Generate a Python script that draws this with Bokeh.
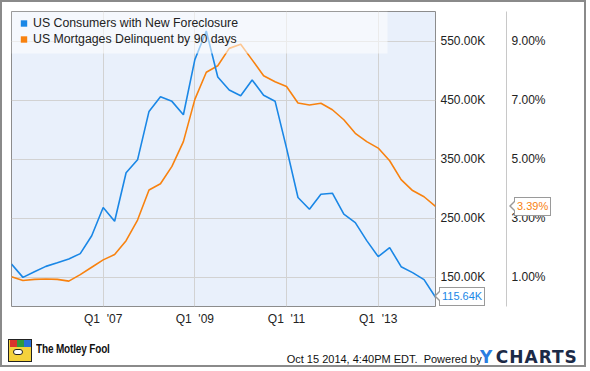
from bokeh.plotting import figure
from bokeh.layouts import column
from bokeh.models import (Range1d, LinearAxis, FixedTicker, PrintfTickFormatter,
                          Legend, LegendItem, BoxAnnotation, ColumnDataSource, Div)
from bokeh.embed import file_html
from bokeh.resources import INLINE

# ---- data -------------------------------------------------------------
quarters = ["2005Q1", "2005Q2", "2005Q3", "2005Q4",
            "2006Q1", "2006Q2", "2006Q3", "2006Q4",
            "2007Q1", "2007Q2", "2007Q3", "2007Q4",
            "2008Q1", "2008Q2", "2008Q3", "2008Q4",
            "2009Q1", "2009Q2", "2009Q3", "2009Q4",
            "2010Q1", "2010Q2", "2010Q3", "2010Q4",
            "2011Q1", "2011Q2", "2011Q3", "2011Q4",
            "2012Q1", "2012Q2", "2012Q3", "2012Q4",
            "2013Q1", "2013Q2", "2013Q3", "2013Q4",
            "2014Q1", "2014Q2"]

# US Consumers with New Foreclosure (thousands)
foreclosures_k = [172, 149.4, 159, 168, 174, 180.6, 189.6, 220,
                  267.7, 244.5, 326.6, 348.6, 430.7, 455.6, 447.7, 425,
                  518.4, 567, 489, 467, 457.3, 484, 458, 448,
                  368.4, 284.7, 264.9, 290.3, 292, 256.4, 242.2, 211.7,
                  184.5, 199.8, 167.5, 157.4, 145.5, 115.64]

# US Mortgages Delinquent by 90 days (%)
delinquent_pct = [1.01, 0.88, 0.92, 0.93, 0.92, 0.86, 1.08, 1.33,
                  1.58, 1.76, 2.23, 2.93, 3.95, 4.16, 4.75, 5.59,
                  7.02, 7.94, 8.16, 8.75, 8.89, 8.36, 7.82, 7.62,
                  7.46, 6.90, 6.83, 6.89, 6.67, 6.33, 5.87, 5.59,
                  5.37, 4.94, 4.30, 3.93, 3.72, 3.39]

series_names = ["US Consumers with New Foreclosure", "US Mortgages Delinquent by 90 days"]

x_ticks = [2007, 2009, 2011, 2013]
x_tick_labels = ["Q1\u00a0\u00a0'07", "Q1\u00a0\u00a0'09", "Q1\u00a0\u00a0'11", "Q1\u00a0\u00a0'13"]
left_ticks = [150, 250, 350, 450, 550]
right_ticks = [1, 3, 5, 7, 9]

last_fc_label = "115.64K"
last_dq_label = "3.39%"

footer_brand = "The Motley Fool"
footer_stamp = "Oct 15 2014, 4:40PM EDT.&nbsp;&nbsp;Powered by"

# ---- layout constants -------------------------------------------------
W, H_MAIN, H_FOOT = 590, 330, 41
F_LEFT, F_TOP, F_RIGHT, F_BOTTOM = 11, 11, 435, 306
K_RANGE = (100, 600)
PCT_RANGE = (0, 10)

BLUE = "#1a87e6"
ORANGE = "#f8820f"
FONT = "Liberation Sans"
TXT = "#222222"

xs = [int(q[:4]) + (int(q[5]) - 1) / 4 for q in quarters]
src = ColumnDataSource(dict(x=xs, fc=foreclosures_k, dq=delinquent_pct))

p = figure(width=W, height=H_MAIN, output_backend="svg", toolbar_location=None,
           x_range=Range1d(xs[0], xs[-1]), y_range=Range1d(*K_RANGE),
           y_axis_location="right",
           min_border_left=F_LEFT, min_border_top=F_TOP,
           min_border_right=W - F_RIGHT, min_border_bottom=H_MAIN - F_BOTTOM)
p.extra_y_ranges = {"pct": Range1d(*PCT_RANGE)}

p.background_fill_color = "#e9f0fb"
p.border_fill_color = "white"
p.outline_line_color = "#8c8c8c"
p.outline_line_width = 1

# x axis
p.xaxis.ticker = FixedTicker(ticks=x_ticks)
p.xaxis.major_label_overrides = {t: l for t, l in zip(x_ticks, x_tick_labels)}
p.xaxis.axis_line_color = None
p.xaxis.major_tick_line_color = None
p.xaxis.minor_tick_line_color = None
p.xaxis.major_tick_out = 0
p.xaxis.major_tick_in = 0
p.xaxis.major_label_standoff = 5
p.xaxis.major_label_text_font = FONT
p.xaxis.major_label_text_font_size = "12px"
p.xaxis.major_label_text_color = TXT

# first right axis (K)
ya = p.yaxis[0]
ya.ticker = FixedTicker(ticks=left_ticks)
ya.formatter = PrintfTickFormatter(format="%.2fK")
ya.axis_line_color = None
ya.major_tick_line_color = None
ya.minor_tick_line_color = None
ya.major_tick_out = 0
ya.major_tick_in = 0
ya.major_label_standoff = 5
ya.major_label_text_font = FONT
ya.major_label_text_font_size = "12px"
ya.major_label_text_color = TXT
ya.axis_label = " "
ya.axis_label_standoff = 1
ya.axis_label_text_font_size = "12px"

# second right axis (%)
ya2 = LinearAxis(y_range_name="pct", ticker=FixedTicker(ticks=right_ticks),
                 formatter=PrintfTickFormatter(format="%.2f%%"))
ya2.axis_line_color = "#c8c8c8"
ya2.major_tick_line_color = None
ya2.minor_tick_line_color = None
ya2.major_tick_out = 0
ya2.major_tick_in = 0
ya2.major_label_standoff = 5
ya2.major_label_text_font = FONT
ya2.major_label_text_font_size = "12px"
ya2.major_label_text_color = TXT
p.add_layout(ya2, "right")

# grids
p.xgrid.ticker = FixedTicker(ticks=x_ticks)
p.ygrid.ticker = FixedTicker(ticks=left_ticks)
p.xgrid.grid_line_color = "#d2d2d2"
p.ygrid.grid_line_color = "#d2d2d2"

# lines
p.line("x", "dq", source=src, color=ORANGE, line_width=1.6, y_range_name="pct")
p.line("x", "fc", source=src, color=BLUE, line_width=1.6)

# legend swatches (markers of size 0, only shown in legend)
sw1 = p.scatter("x", "fc", source=src, size=0, marker="square", fill_color=BLUE, line_color=None)
sw2 = p.scatter("x", "dq", source=src, size=0, marker="square", fill_color=ORANGE,
                line_color=None, y_range_name="pct")

band = BoxAnnotation(left=0, right=376, top=F_BOTTOM - F_TOP, bottom=253,
                     left_units="screen", right_units="screen",
                     top_units="screen", bottom_units="screen",
                     fill_color="white", fill_alpha=0.55, line_color=None)
p.add_layout(band)

legend = Legend(items=[LegendItem(label=series_names[0], renderers=[sw1]),
                       LegendItem(label=series_names[1], renderers=[sw2])],
                location="top_left", background_fill_alpha=0, border_line_color=None,
                padding=14, margin=4, spacing=0, glyph_width=17, glyph_height=16,
                label_height=16, label_standoff=1, label_text_font=FONT,
                label_text_font_size="12.3px", label_text_color=TXT)
p.add_layout(legend)


# ---- badges + footer (HTML below the plot) -----------------------------
def to_px(v, rng):
    lo, hi = rng
    return F_TOP + (hi - v) / (hi - lo) * (F_BOTTOM - F_TOP)


def badge(text, color, left, center_y):
    top = center_y - 9.5 - H_MAIN
    return (
        f'<div style="position:absolute;left:{left}px;top:{top:.1f}px;height:19px;'
        f'box-sizing:border-box;border:1px solid #9a9a9a;background:#fff;color:{color};'
        f'font-size:11px;line-height:17px;padding:0 2px;white-space:nowrap;z-index:20;">'
        f'<div style="position:absolute;left:-6px;top:3px;width:0;height:0;'
        f'border-top:5px solid transparent;border-bottom:5px solid transparent;'
        f'border-right:5px solid #9a9a9a;"></div>'
        f'<div style="position:absolute;left:-4px;top:4px;width:0;height:0;'
        f'border-top:4px solid transparent;border-bottom:4px solid transparent;'
        f'border-right:4px solid #fff;"></div>'
        f'{text}</div>'
    )


html = (
    f'<div style="position:relative;width:{W}px;height:{H_FOOT}px;'
    f'font-family:\'{FONT}\',Arial,sans-serif;color:#111;">'
    # outer frame of the whole graphic
    f'<div style="position:absolute;left:0;top:-{H_MAIN}px;width:{W - 4}px;'
    f'height:{H_MAIN + H_FOOT - 4}px;border:2px solid #8a8a8a;z-index:19;'
    f'pointer-events:none;"></div>'
    + badge(last_fc_label, BLUE, F_RIGHT + 4, to_px(foreclosures_k[-1], K_RANGE))
    + badge(last_dq_label, ORANGE, 514, to_px(delinquent_pct[-1], PCT_RANGE))
    # Motley Fool mark
    + '<div style="position:absolute;left:8px;top:9px;width:26px;height:25px;">'
      '<div style="position:absolute;left:0;top:0;width:24px;height:23px;'
      'border:1px solid #222;background:#f4d23c;"></div>'
      '<div style="position:absolute;left:2px;top:1px;width:7px;height:7px;background:#d8342c;"></div>'
      '<div style="position:absolute;left:9px;top:1px;width:7px;height:7px;background:#2f9a3c;"></div>'
      '<div style="position:absolute;left:16px;top:1px;width:7px;height:7px;background:#2a6fd6;"></div>'
      '<div style="position:absolute;left:5px;top:10px;width:10px;height:6px;'
      'border-radius:3px;background:#fff;border:1px solid #222;"></div>'
      '</div>'
    + f'<div style="position:absolute;left:35.5px;top:12px;font-size:12.5px;line-height:14px;'
      f'font-weight:bold;white-space:nowrap;transform:scaleX(0.8);transform-origin:left top;'
      f'letter-spacing:-0.2px;">{footer_brand}</div>'
    + f'<div style="position:absolute;left:286.7px;top:23px;font-size:11px;line-height:13px;'
      f'white-space:nowrap;">{footer_stamp}</div>'
    + '<div style="position:absolute;left:480px;top:19px;font-family:\'DejaVu Sans\',sans-serif;'
      'font-weight:bold;font-size:17px;line-height:17px;white-space:nowrap;">'
      '<span style="color:#2a7de1;">Y</span>'
      '<span style="color:#1b2a47;margin-left:3.5px;letter-spacing:1px;">CHARTS</span></div>'
    + '</div>'
)

foot = Div(text=html, width=W, height=H_FOOT, margin=(0, 0, 0, 0))

layout = column(p, foot, spacing=0)
open("out.html", "w").write(file_html(layout, INLINE))
